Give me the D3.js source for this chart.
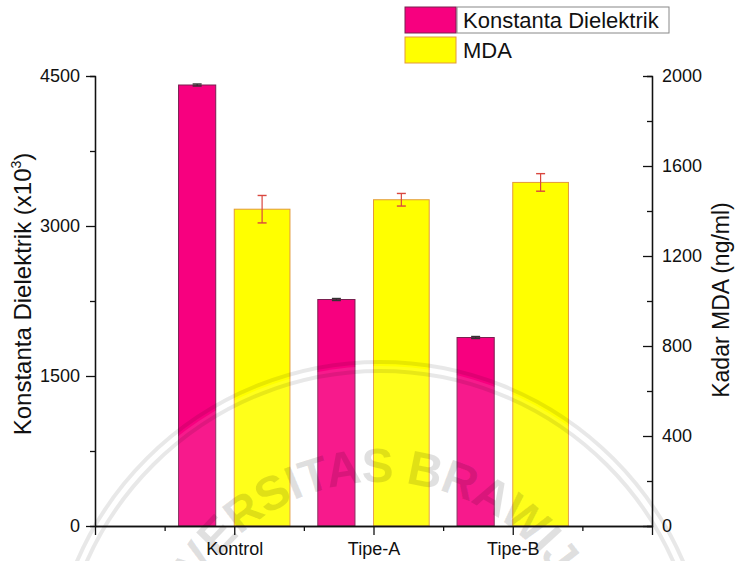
<!DOCTYPE html>
<html>
<head>
<meta charset="utf-8">
<script src="https://cdn.jsdelivr.net/npm/d3@7/dist/d3.min.js"></script>
<style>
  html, body { margin: 0; padding: 0; background: #fff; }
  svg { display: block; font-family: "Liberation Sans", Arial, sans-serif; }
</style>
</head>
<body>
<svg id="chart" width="740" height="561"></svg>
<script>
// ---- data ----
const categories = ["Kontrol", "Tipe-A", "Tipe-B"];
const dielektrik = [4410, 2265, 1885];      // Konstanta Dielektrik (x10^3)
const dielektrikErr = [10, 10, 10];
const mda = [1408, 1450, 1527];             // Kadar MDA (ng/ml)
const mdaErr = [61, 28, 39];
const leftTicks = [0, 1500, 3000, 4500];
const rightTicks = [0, 400, 800, 1200, 1600, 2000];
const seriesNames = ["Konstanta Dielektrik", "MDA"];

// ---- layout ----
const W = 740, H = 561;
const plot = { left: 95, right: 652, top: 76, bottom: 526 };
const pinkFill = "#f7007f", pinkStroke = "#7a2050";
const yellowFill = "#ffff00", yellowStroke = "#e39a3a";
const fontFamily = "Liberation Sans, Arial, sans-serif";

const svg = d3.select("#chart");

const x = d3.scaleLinear().domain([0, categories.length + 1]).range([plot.left, plot.right]);
const yL = d3.scaleLinear().domain([0, 4500]).range([plot.bottom, plot.top]);
const yR = d3.scaleLinear().domain([0, 2000]).range([plot.bottom, plot.top]);

// bar geometry in category units
const pinkOffset = [-0.40, -0.133];
const yellowOffset = [0.0, 0.40];

const rows = categories.map((c, i) => ({
  c, pos: i + 1,
  d: dielektrik[i], de: dielektrikErr[i],
  m: mda[i], me: mdaErr[i]
}));

// ---- bars ----
const gBars = svg.append("g");
gBars.selectAll("rect.pink").data(rows).join("rect")
  .attr("class", "pink")
  .attr("x", r => x(r.pos + pinkOffset[0]))
  .attr("width", r => x(r.pos + pinkOffset[1]) - x(r.pos + pinkOffset[0]))
  .attr("y", r => yL(r.d))
  .attr("height", r => yL(0) - yL(r.d))
  .attr("fill", pinkFill)
  .attr("stroke", pinkStroke)
  .attr("stroke-width", 1);

gBars.selectAll("rect.yellow").data(rows).join("rect")
  .attr("class", "yellow")
  .attr("x", r => x(r.pos + yellowOffset[0]))
  .attr("width", r => x(r.pos + yellowOffset[1]) - x(r.pos + yellowOffset[0]))
  .attr("y", r => yR(r.m))
  .attr("height", r => yR(0) - yR(r.m))
  .attr("fill", yellowFill)
  .attr("stroke", yellowStroke)
  .attr("stroke-width", 1);

// ---- error bars ----
function errorBar(g, cx, yTop, yBot, capW, color) {
  g.append("line").attr("x1", cx).attr("x2", cx).attr("y1", yTop).attr("y2", yBot)
    .attr("stroke", color).attr("stroke-width", 1.2);
  [yTop, yBot].forEach(yy => g.append("line")
    .attr("x1", cx - capW / 2).attr("x2", cx + capW / 2).attr("y1", yy).attr("y2", yy)
    .attr("stroke", color).attr("stroke-width", 1.4));
}
const gErr = svg.append("g");
rows.forEach(r => {
  const pc = (x(r.pos + pinkOffset[0]) + x(r.pos + pinkOffset[1])) / 2;
  errorBar(gErr, pc, yL(r.d + r.de), yL(r.d - r.de), 9, "#333");
  const yc = (x(r.pos + yellowOffset[0]) + x(r.pos + yellowOffset[1])) / 2;
  errorBar(gErr, yc, yR(r.m + r.me), yR(r.m - r.me), 9, "#d9473f");
});

// ---- faint emblem watermark ----
const wm = svg.append("g").attr("pointer-events", "none");
const wc = { x: 380, y: 692 };
wm.append("circle").attr("cx", wc.x).attr("cy", wc.y).attr("r", 326)
  .attr("fill", "#fff").attr("fill-opacity", 0.1);
[330, 321].forEach(rr => wm.append("circle")
  .attr("cx", wc.x).attr("cy", wc.y).attr("r", rr)
  .attr("fill", "none").attr("stroke", "#000").attr("stroke-opacity", 0.09)
  .attr("stroke-width", 4));
const arcR = 210;
wm.append("path").attr("id", "wmArc")
  .attr("d", `M ${wc.x - arcR} ${wc.y} A ${arcR} ${arcR} 0 0 1 ${wc.x + arcR} ${wc.y}`)
  .attr("fill", "none");
wm.append("text")
  .attr("font-size", 48).attr("font-weight", "bold")
  .attr("font-family", fontFamily)
  .attr("letter-spacing", -1)
  .attr("fill", "#000").attr("fill-opacity", 0.12)
  .append("textPath").attr("href", "#wmArc")
  .attr("startOffset", "50%").attr("text-anchor", "middle")
  .text("UNIVERSITAS BRAWIJAYA");

// ---- axes ----
const axisColor = "#111";
const tickFont = 18;
const fmt = d3.format("d");

// bottom axis: major at integer positions, minor at halves
const gX = svg.append("g").attr("transform", `translate(0,${plot.bottom})`);
gX.call(d3.axisBottom(x).tickValues(d3.range(0, categories.length + 1.01, 1))
  .tickSizeInner(9).tickSizeOuter(0).tickPadding(7)
  .tickFormat(d => categories[d - 1] || ""));
gX.append("g").call(d3.axisBottom(x).tickValues(d3.range(0.5, categories.length + 1, 1))
  .tickSize(5).tickSizeOuter(0).tickFormat(""));
gX.selectAll("text").attr("font-size", tickFont).attr("fill", axisColor)
  .attr("font-family", fontFamily);

// left axis
const gL = svg.append("g").attr("transform", `translate(${plot.left},0)`);
gL.call(d3.axisLeft(yL).tickValues(leftTicks).tickFormat(fmt)
  .tickSizeInner(9).tickSizeOuter(0).tickPadding(6));
gL.append("g").call(d3.axisLeft(yL).tickValues([750, 2250, 3750]).tickSize(5).tickFormat(""));
gL.selectAll("text").attr("font-size", tickFont).attr("fill", axisColor)
  .attr("font-family", fontFamily);

// right axis: ticks point into the plot, labels outside
const gR = svg.append("g").attr("transform", `translate(${plot.right},0)`);
gR.call(d3.axisRight(yR).tickValues(rightTicks).tickFormat(fmt)
  .tickSizeInner(-9).tickSizeOuter(0).tickPadding(10));
gR.append("g").call(d3.axisRight(yR).tickValues([200, 600, 1000, 1400, 1800]).tickSize(-5).tickFormat(""));
gR.selectAll("text").attr("font-size", tickFont).attr("fill", axisColor)
  .attr("font-family", fontFamily);

svg.selectAll(".domain, .tick line").attr("stroke", axisColor).attr("stroke-width", 1.3);

// axis titles
const titleL = svg.append("text")
  .attr("transform", `translate(31,294) rotate(-90)`)
  .attr("text-anchor", "middle").attr("font-size", 24).attr("fill", axisColor);
titleL.append("tspan").text("Konstanta Dielektrik (x10");
titleL.append("tspan").attr("font-size", 14).attr("dy", -10).text("3");
titleL.append("tspan").attr("dy", 10).text(")");

svg.append("text")
  .attr("transform", `translate(729,300) rotate(-90)`)
  .attr("text-anchor", "middle").attr("font-size", 23).attr("fill", axisColor)
  .text("Kadar MDA (ng/ml)");

// ---- legend ----
const lg = svg.append("g");
const legendItems = [
  { name: seriesNames[0], fill: pinkFill, stroke: pinkStroke, y: 7 },
  { name: seriesNames[1], fill: yellowFill, stroke: yellowStroke, y: 37 }
];
lg.append("rect").attr("x", 457).attr("y", 7).attr("width", 212).attr("height", 26)
  .attr("fill", "none").attr("stroke", "#888").attr("stroke-width", 1);
legendItems.forEach(it => {
  lg.append("rect").attr("x", 405).attr("y", it.y).attr("width", 51).attr("height", 26)
    .attr("fill", it.fill).attr("stroke", it.stroke).attr("stroke-width", 1);
  lg.append("text").attr("x", 463).attr("y", it.y + 21)
    .attr("font-size", 22).attr("fill", axisColor).text(it.name);
});
</script>
</body>
</html>
